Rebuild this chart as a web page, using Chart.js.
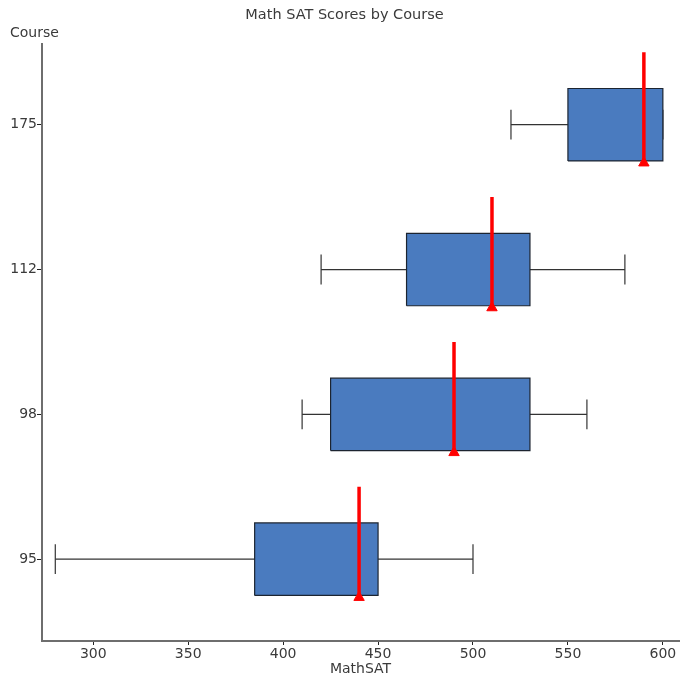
<!DOCTYPE html>
<html>
<head>
<meta charset="utf-8">
<script src="https://cdn.jsdelivr.net/npm/chart.js@4"></script>
<style>
  html, body { margin: 0; padding: 0; background: #fff; }
  #wrap { width: 680px; height: 683px; }
</style>
</head>
<body>
<div id="wrap"><canvas id="grafico"></canvas></div>
<script>
// dati
const corsi = ["95", "98", "112", "175"];
const minimi = [280, 410, 420, 520];
const q1 = [385, 425, 465, 550];
const mediane = [440, 490, 510, 590];
const q3 = [450, 530, 530, 600];
const massimi = [500, 560, 580, 600];
const tickX = [300, 350, 400, 450, 500, 550, 600];

const FONT = "'DejaVu Sans', sans-serif";
const TESTO = "#3a3a3a";
const ASSE = "#6e6e6e";
const meta = 0.25;   // mezza altezza del box
const cap = 0.103;   // mezza altezza dei baffi

const datasets = [];

corsi.forEach((c, i) => {
  // box (q1 - q3)
  datasets.push({
    data: [
      { x: q1[i], y: i - meta }, { x: q3[i], y: i - meta },
      { x: q3[i], y: i + meta }, { x: q1[i], y: i + meta },
      { x: q1[i], y: i - meta }
    ],
    showLine: true, fill: "shape",
    backgroundColor: "#4a7bbf", borderColor: "#1c2430", borderWidth: 1.2,
    pointRadius: 0, order: 2
  });

  // baffi
  const segmenti = [
    [{ x: minimi[i], y: i }, { x: q1[i], y: i }],
    [{ x: q3[i], y: i }, { x: massimi[i], y: i }],
    [{ x: minimi[i], y: i - cap }, { x: minimi[i], y: i + cap }],
    [{ x: massimi[i], y: i - cap }, { x: massimi[i], y: i + cap }]
  ];
  segmenti.forEach(s => datasets.push({
    data: s, showLine: true, borderColor: "#333", borderWidth: 1.2,
    pointRadius: 0, order: 3
  }));

  // mediana
  datasets.push({
    data: [{ x: mediane[i], y: i - meta }, { x: mediane[i], y: i + 0.5 }],
    showLine: true, borderColor: "#ff0000", borderWidth: 3.5,
    pointRadius: 0, order: 1
  });
});

// triangoli delle mediane
datasets.push({
  data: corsi.map((c, i) => ({ x: mediane[i], y: i - meta - 0.014 })),
  showLine: false, pointStyle: "triangle", pointRadius: 6,
  backgroundColor: "#ff0000", borderColor: "#ff0000", borderWidth: 1,
  order: 0
});

const ctx = document.getElementById("grafico").getContext("2d");
new Chart(ctx, {
  type: "scatter",
  data: { datasets },
  options: {
    responsive: true,
    maintainAspectRatio: false,
    animation: false,
    layout: { autoPadding: false, padding: { left: 10, right: 1, top: 0, bottom: 0 } },
    plugins: {
      legend: { display: false },
      tooltip: { enabled: false },
      title: {
        display: true, text: "Math SAT Scores by Course", color: TESTO,
        font: { family: FONT, size: 14.5, weight: "normal" },
        padding: { top: 7, bottom: 1 }
      },
      subtitle: {
        display: true, text: "Course", align: "start", color: TESTO,
        font: { family: FONT, size: 14, weight: "normal" },
        padding: { top: 0, bottom: 1.4 }
      }
    },
    scales: {
      x: {
        type: "linear", min: 273, max: 608.5,
        afterBuildTicks: axis => { axis.ticks = tickX.map(v => ({ value: v })); },
        afterFit: axis => { axis.height = 42; axis.paddingLeft = 0; axis.paddingRight = 0; },
        grid: { drawOnChartArea: false, drawTicks: true, tickLength: 4, color: "#222" },
        border: { color: ASSE, width: 2 },
        ticks: { color: TESTO, padding: 1, font: { family: FONT, size: 14 } },
        title: {
          display: true, text: "MathSAT", color: TESTO,
          font: { family: FONT, size: 14 }, padding: { top: 0, bottom: 5.6 }
        }
      },
      y: {
        type: "linear", min: -0.565, max: 3.56,
        afterBuildTicks: axis => { axis.ticks = corsi.map((c, i) => ({ value: i })); },
        afterFit: axis => { axis.width = 32; axis.paddingTop = 0; axis.paddingBottom = 0; },
        grid: { drawOnChartArea: false, drawTicks: true, tickLength: 5, color: "#222" },
        border: { color: ASSE, width: 2 },
        ticks: {
          color: TESTO, padding: 0, font: { family: FONT, size: 14 },
          callback: v => corsi[Math.round(v)]
        }
      }
    }
  }
});
</script>
</body>
</html>
